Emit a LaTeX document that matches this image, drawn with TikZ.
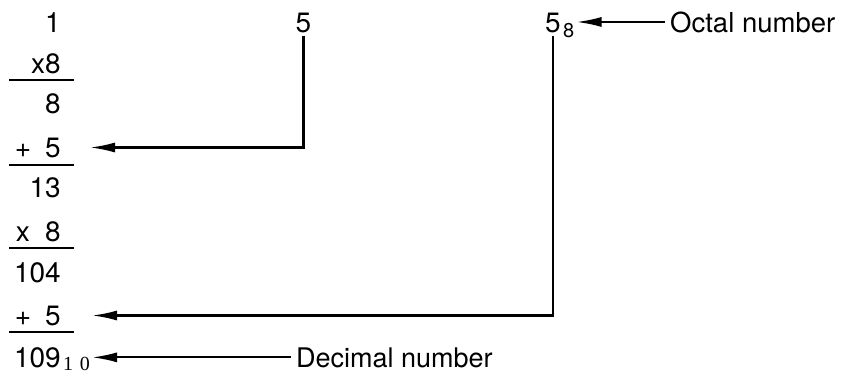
\documentclass[tikz,border=0pt]{standalone}
\usepackage{fontspec}
\setmainfont{TeX Gyre Heros}
\newfontfamily\subserif{Liberation Serif}
\usetikzlibrary{arrows.meta}
\begin{document}
\begin{tikzpicture}[x=1pt,y=-1pt,
  num/.style={font=\fontsize{28}{30}\selectfont, inner sep=0pt},
  lbl/.style={font=\fontsize{27.5}{30}\selectfont, inner xsep=5pt, inner ysep=0pt, anchor=base west},
  sub/.style={font=\fontsize{20}{22}\selectfont, inner xsep=2pt, inner ysep=0pt, anchor=base west},
  arr/.style={line width=2.1pt, -{Latex[length=25pt,width=10pt]}},
  rulel/.style={line width=2.2pt}]
\useasboundingbox (0,0) rectangle (843,373);
% left column
\node[num, anchor=base east] (n1) at (61,32) {1};
\node[num, anchor=base east] (n2) at (61,73) {x8};
\node[num, anchor=base east] (n3) at (61,113) {8};
\node[num, anchor=base east] (n4) at (61,157) {+\hspace{0.5em}5};
\node[num, anchor=base east] (n5) at (61,197) {13};
\node[num, anchor=base east] (n6) at (61,241) {x\hspace{0.55em}8};
\node[num, anchor=base east] (n7) at (61,282) {104};
\node[num, anchor=base east] (n8) at (61,325) {+\hspace{0.5em}5};
\node[num, anchor=base east] (n9) at (61,367) {109};
\node[sub, font=\subserif\fontsize{20}{22}\selectfont, yshift=-3pt] (sub10) at (n9.base east) {1\,\,0};
% rules
\draw[rulel] (9,80) -- (74,80);
\draw[rulel] (9,165) -- (74,165);
\draw[rulel] (9,248) -- (74,248);
\draw[rulel] (9,332) -- (74,332);
% top digits
\node[num, anchor=base, inner ysep=3pt] (five) at (303.5,32) {5};
\node[num, anchor=base, inner ysep=3pt] (fiveoct) at (553,32) {5};
\node[sub, yshift=-5pt] (sub8) at (fiveoct.base east) {8};
% labels
\node[lbl] (octal) at (665,32) {Octal number};
\node[lbl, font=\fontsize{27}{30}\selectfont] (decimal) at (291,367) {Decimal number};
% connectors
\draw[arr] (octal.west) -- (octal.west -| sub8.east);
\draw[arr] (decimal.west) -- (decimal.west -| sub10.east);
\draw[arr] (five.south) |- ([xshift=29pt]n4.east);
\draw[arr] (fiveoct.south) |- ([xshift=31pt]n8.east);
\end{tikzpicture}
\end{document}
